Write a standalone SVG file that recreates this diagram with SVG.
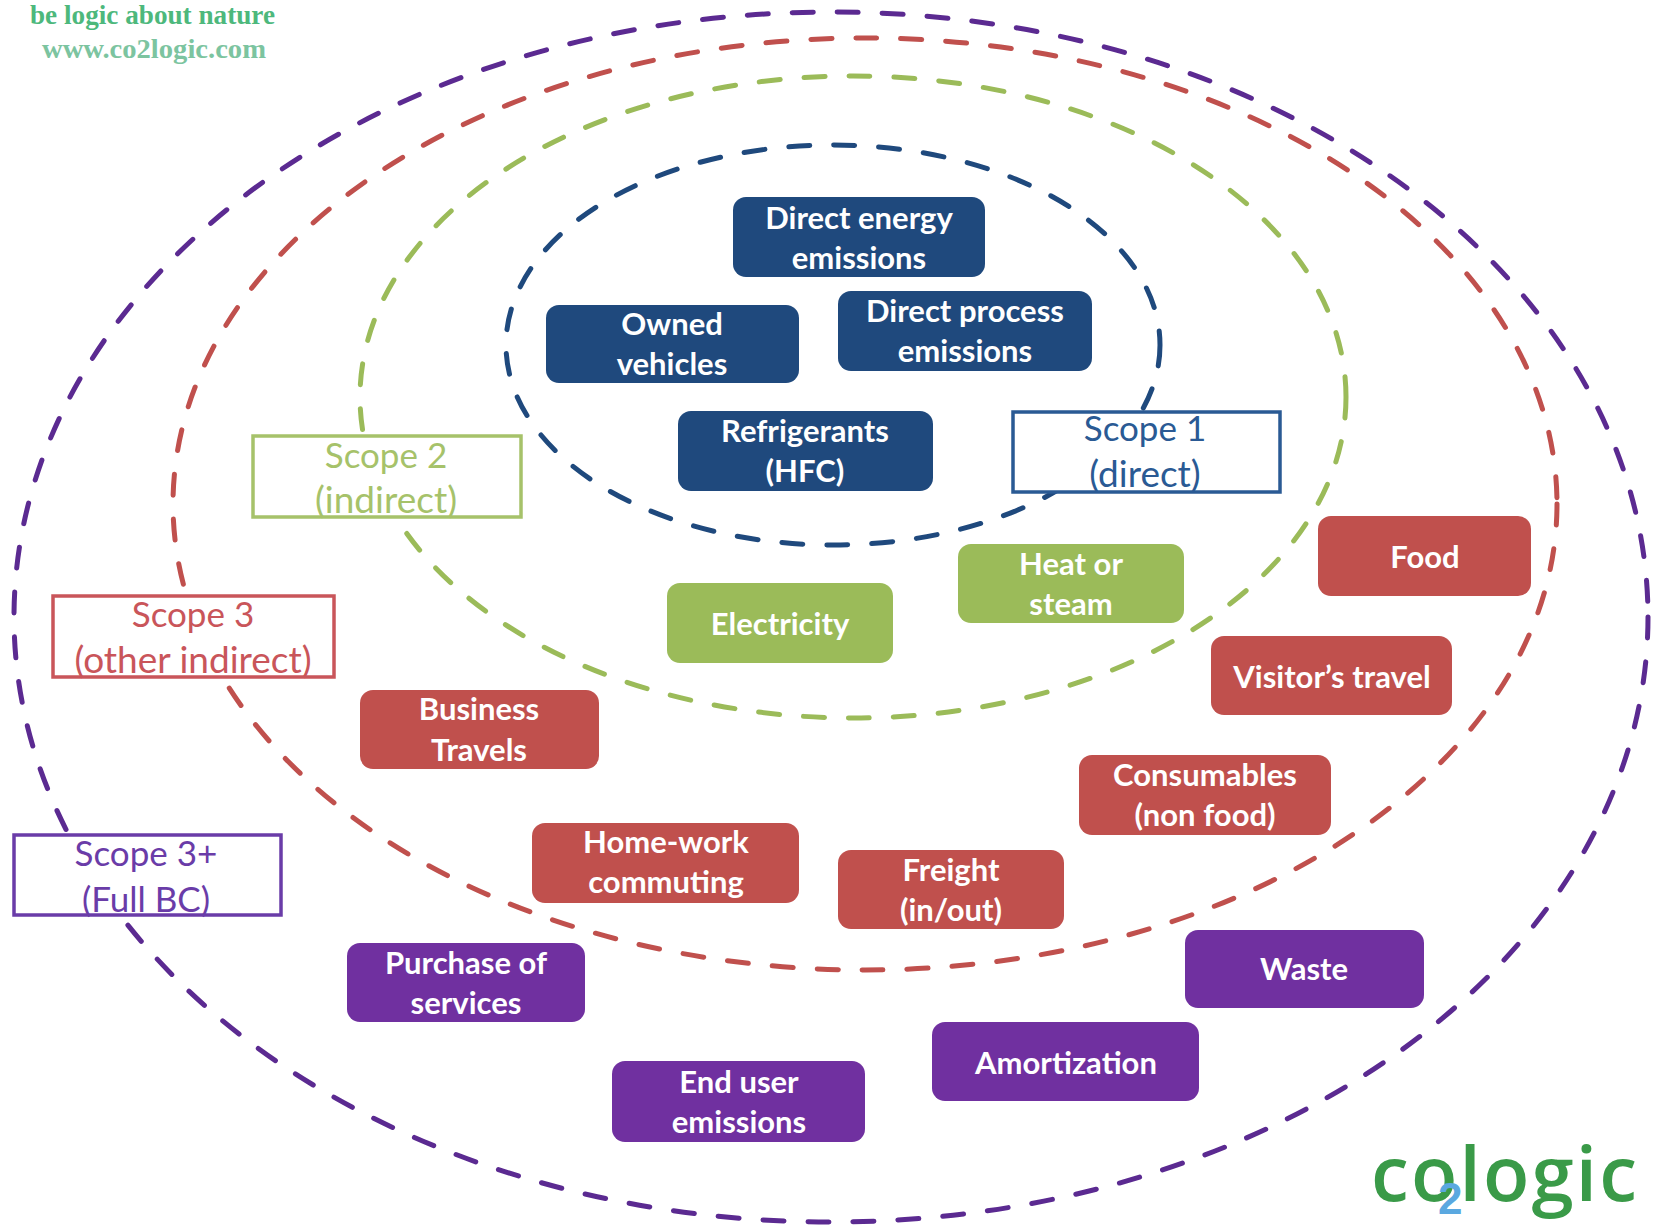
<svg xmlns="http://www.w3.org/2000/svg" width="1659" height="1225" viewBox="0 0 1659 1225">
<style>
.sc{fill:none;stroke-width:5;stroke-dasharray:21 24;stroke-linecap:round}
.n rect{stroke:none}
.n text{font-family:"Lato","Open Sans",sans-serif;font-weight:700;font-size:31px;fill:#fff;text-anchor:middle}
.l rect{fill:#fff;stroke-width:3.5}
.l text{font-family:"Lato","Open Sans",sans-serif;font-weight:400;font-size:35px;text-anchor:middle}
.l text.w{font-size:37px}
.blue rect{fill:#1f497d}.red rect{fill:#c0504d}.green rect{fill:#9bbb59}.purple rect{fill:#7030a0}
</style>
<rect width="1659" height="1225" fill="#fff"/>
<g id="scope-boundaries">
<ellipse class="sc" cx="831" cy="617" rx="817" ry="605" stroke="#5b2a91"/>
<ellipse class="sc" cx="865" cy="504" rx="692" ry="466" stroke="#c0504d"/>
<ellipse class="sc" cx="853" cy="397" rx="493" ry="321" stroke="#9bbb59"/>
<ellipse class="sc" cx="833" cy="345" rx="327" ry="200" stroke="#1f497d"/>
</g>
<g id="tagline">
<text x="30" y="24" font-family="Liberation Serif,serif" font-weight="700" font-size="28" fill="#4db87c" textLength="245" lengthAdjust="spacingAndGlyphs">be logic about nature</text>
<text x="42" y="58" font-family="Liberation Serif,serif" font-weight="700" font-size="28" fill="#7cc4a0" textLength="224" lengthAdjust="spacingAndGlyphs">www.co2logic.com</text>
</g>
<g id="direct-energy" class="n blue"><rect x="733" y="197" width="252" height="80" rx="13"/><text x="859" y="229">Direct energy</text><text x="859" y="269">emissions</text></g>
<g id="owned-vehicles" class="n blue"><rect x="546" y="305" width="253" height="78" rx="13"/><text x="672" y="335">Owned</text><text x="672" y="375">vehicles</text></g>
<g id="direct-process" class="n blue"><rect x="838" y="291" width="254" height="80" rx="13"/><text x="965" y="322">Direct process</text><text x="965" y="362">emissions</text></g>
<g id="refrigerants" class="n blue"><rect x="678" y="411" width="255" height="80" rx="13"/><text x="805" y="442">Refrigerants</text><text x="805" y="482">(HFC)</text></g>
<g id="heat" class="n green"><rect x="958" y="544" width="226" height="79" rx="13"/><text x="1071" y="575">Heat or</text><text x="1071" y="615">steam</text></g>
<g id="electricity" class="n green"><rect x="667" y="583" width="226" height="80" rx="13"/><text x="780" y="635">Electricity</text></g>
<g id="food" class="n red"><rect x="1318" y="516" width="213" height="80" rx="13"/><text x="1425" y="568">Food</text></g>
<g id="visitor" class="n red"><rect x="1211" y="636" width="241" height="79" rx="13"/><text x="1332" y="688">Visitor’s travel</text></g>
<g id="consumables" class="n red"><rect x="1079" y="755" width="252" height="80" rx="13"/><text x="1205" y="786">Consumables</text><text x="1205" y="826">(non food)</text></g>
<g id="business" class="n red"><rect x="360" y="690" width="239" height="79" rx="13"/><text x="479" y="720">Business</text><text x="479" y="761">Travels</text></g>
<g id="home-work" class="n red"><rect x="532" y="823" width="267" height="80" rx="13"/><text x="666" y="853">Home-work</text><text x="666" y="893">commuting</text></g>
<g id="freight" class="n red"><rect x="838" y="850" width="226" height="79" rx="13"/><text x="951" y="881">Freight</text><text x="951" y="921">(in/out)</text></g>
<g id="waste" class="n purple"><rect x="1185" y="930" width="239" height="78" rx="13"/><text x="1304" y="980">Waste</text></g>
<g id="purchase" class="n purple"><rect x="347" y="943" width="238" height="79" rx="13"/><text x="466" y="974">Purchase of</text><text x="466" y="1014">services</text></g>
<g id="amortization" class="n purple"><rect x="932" y="1022" width="267" height="79" rx="13"/><text x="1066" y="1074">Amortization</text></g>
<g id="end-user" class="n purple"><rect x="612" y="1061" width="253" height="81" rx="13"/><text x="739" y="1093">End user</text><text x="739" y="1133">emissions</text></g>
<g id="scope1" class="l"><rect x="1013" y="412" width="267" height="80" stroke="#2a5a94"/><text x="1145" y="441" fill="#2a5a94">Scope 1</text><text class="w" x="1145" y="487" fill="#2a5a94">(direct)</text></g>
<g id="scope2" class="l"><rect x="253" y="436" width="268" height="81" stroke="#a6c26a"/><text x="386" y="468" fill="#a6c26a">Scope 2</text><text class="w" x="386" y="513" fill="#a6c26a">(indirect)</text></g>
<g id="scope3" class="l"><rect x="53" y="596" width="281" height="81" stroke="#c9555a"/><text x="193" y="627" fill="#c9555a">Scope 3</text><text class="w" x="193" y="673" fill="#c9555a">(other indirect)</text></g>
<g id="scope3plus" class="l"><rect x="14" y="835" width="267" height="80" stroke="#6a3ca8"/><text x="146" y="866" fill="#6a3ca8">Scope 3+</text><text x="146" y="912" fill="#6a3ca8">(Full BC)</text></g>
<g id="logo">
<text x="1371" y="1201" font-family="Open Sans,sans-serif" font-weight="600" font-size="76" fill="#3a9a48" textLength="266">cologic</text>
<text x="1438" y="1214" font-family="Liberation Sans,sans-serif" font-weight="700" font-size="44" fill="#5aa8e0">2</text>
</g>
</svg>
